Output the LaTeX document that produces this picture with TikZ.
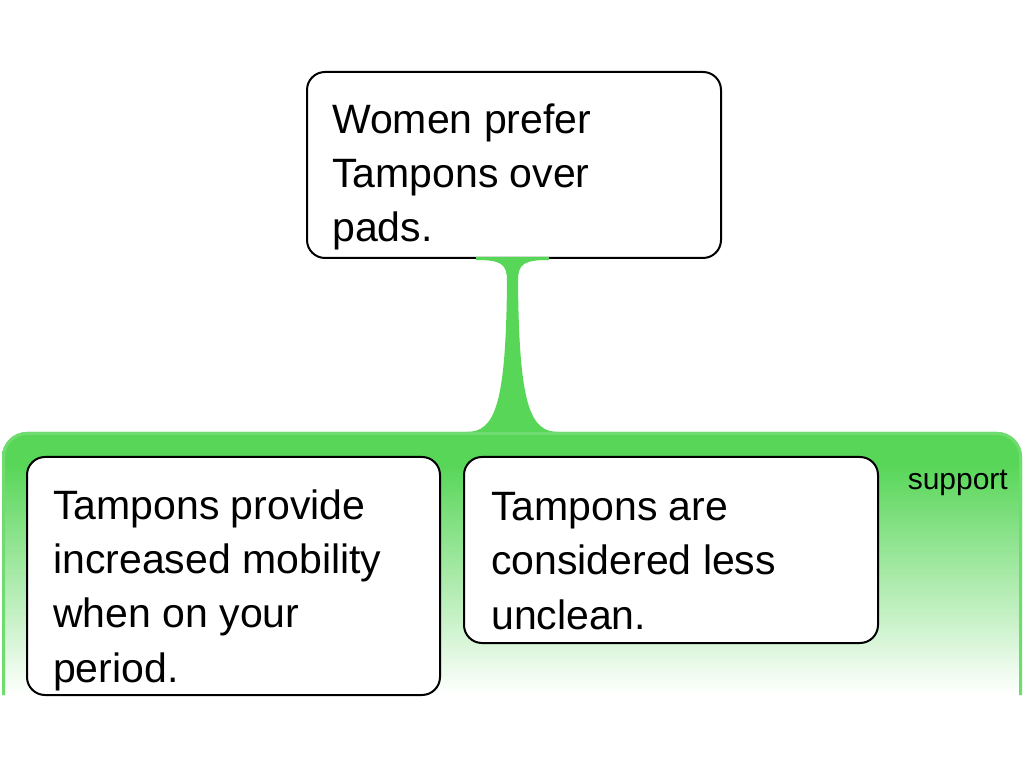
\documentclass[tikz,border=0pt]{standalone}
\usepackage{fontspec}
\setmainfont{Liberation Sans}
\usetikzlibrary{calc}
\definecolor{G}{RGB}{87,214,87}
\pgfdeclareverticalshading{gfade}{100bp}{color(0bp)=(white); color(25bp)=(white); color(69bp)=(G); color(100bp)=(G)}
\begin{document}
\begin{tikzpicture}[x=1pt,y=1pt,
  box/.style={draw=black, line width=2pt, fill=white, rounded corners=18pt, inner sep=0pt},
  txt/.style={anchor=base west, inner sep=0pt, align=left, font=\fontsize{41}{54}\selectfont},
  lbl/.style={anchor=base east, inner sep=0pt, font=\fontsize{30}{36}\selectfont},
]
\useasboundingbox (0,0) rectangle (1024,768);
\coordinate (rtop) at (512.5,336);
% support region
\shade[shading=gfade] (2,73) -- (2,311) arc[start angle=180, end angle=90, radius=25] -- (997,336) arc[start angle=90, end angle=0, radius=25] -- (1022,73) -- cycle;
\draw[G!85, line width=3pt] (3.5,73) -- (3.5,311) arc[start angle=180, end angle=90, radius=23.5] -- (997,334.5) arc[start angle=90, end angle=0, radius=23.5] -- (1020.5,73);
% claim
\node[box, minimum width=414pt, minimum height=186pt] (claim) at (514,603) {};
\node[txt] (claimtxt) at (332,526) {Women prefer\\Tampons over\\pads.};
% connector
\coordinate (st) at (claim.south -| rtop);
\fill[G] ($(st)+(-36.5,2)$) -- ($(st)+(-36.5,-1)$) .. controls ($(st)+(-11,-1)$) and ($(st)+(-5.5,-5)$) .. ($(st)+(-5.5,-22)$)
  .. controls ($(rtop)+(-6.5,27)$) and ($(rtop)+(-17.5,0)$) .. ($(rtop)+(-46,0)$)
  -- ($(rtop)+(46,0)$)
  .. controls ($(rtop)+(17.5,0)$) and ($(rtop)+(6.5,27)$) .. ($(st)+(5.5,-22)$)
  .. controls ($(st)+(5.5,-5)$) and ($(st)+(11,-1)$) .. ($(st)+(36.5,-1)$) -- ($(st)+(36.5,2)$) -- cycle;
% reasons
\node[box, minimum width=413pt, minimum height=238pt] (r1) at (233.5,192) {};
\node[txt] (r1txt) at (53,86) {Tampons provide\\increased mobility\\when on your\\period.};
\node[box, minimum width=414pt, minimum height=186pt] (r2) at (671,218) {};
\node[txt] (r2txt) at (491,139) {Tampons are\\considered less\\unclean.};
\node[lbl] (sup) at (1008,278) {support};
\end{tikzpicture}
\end{document}
